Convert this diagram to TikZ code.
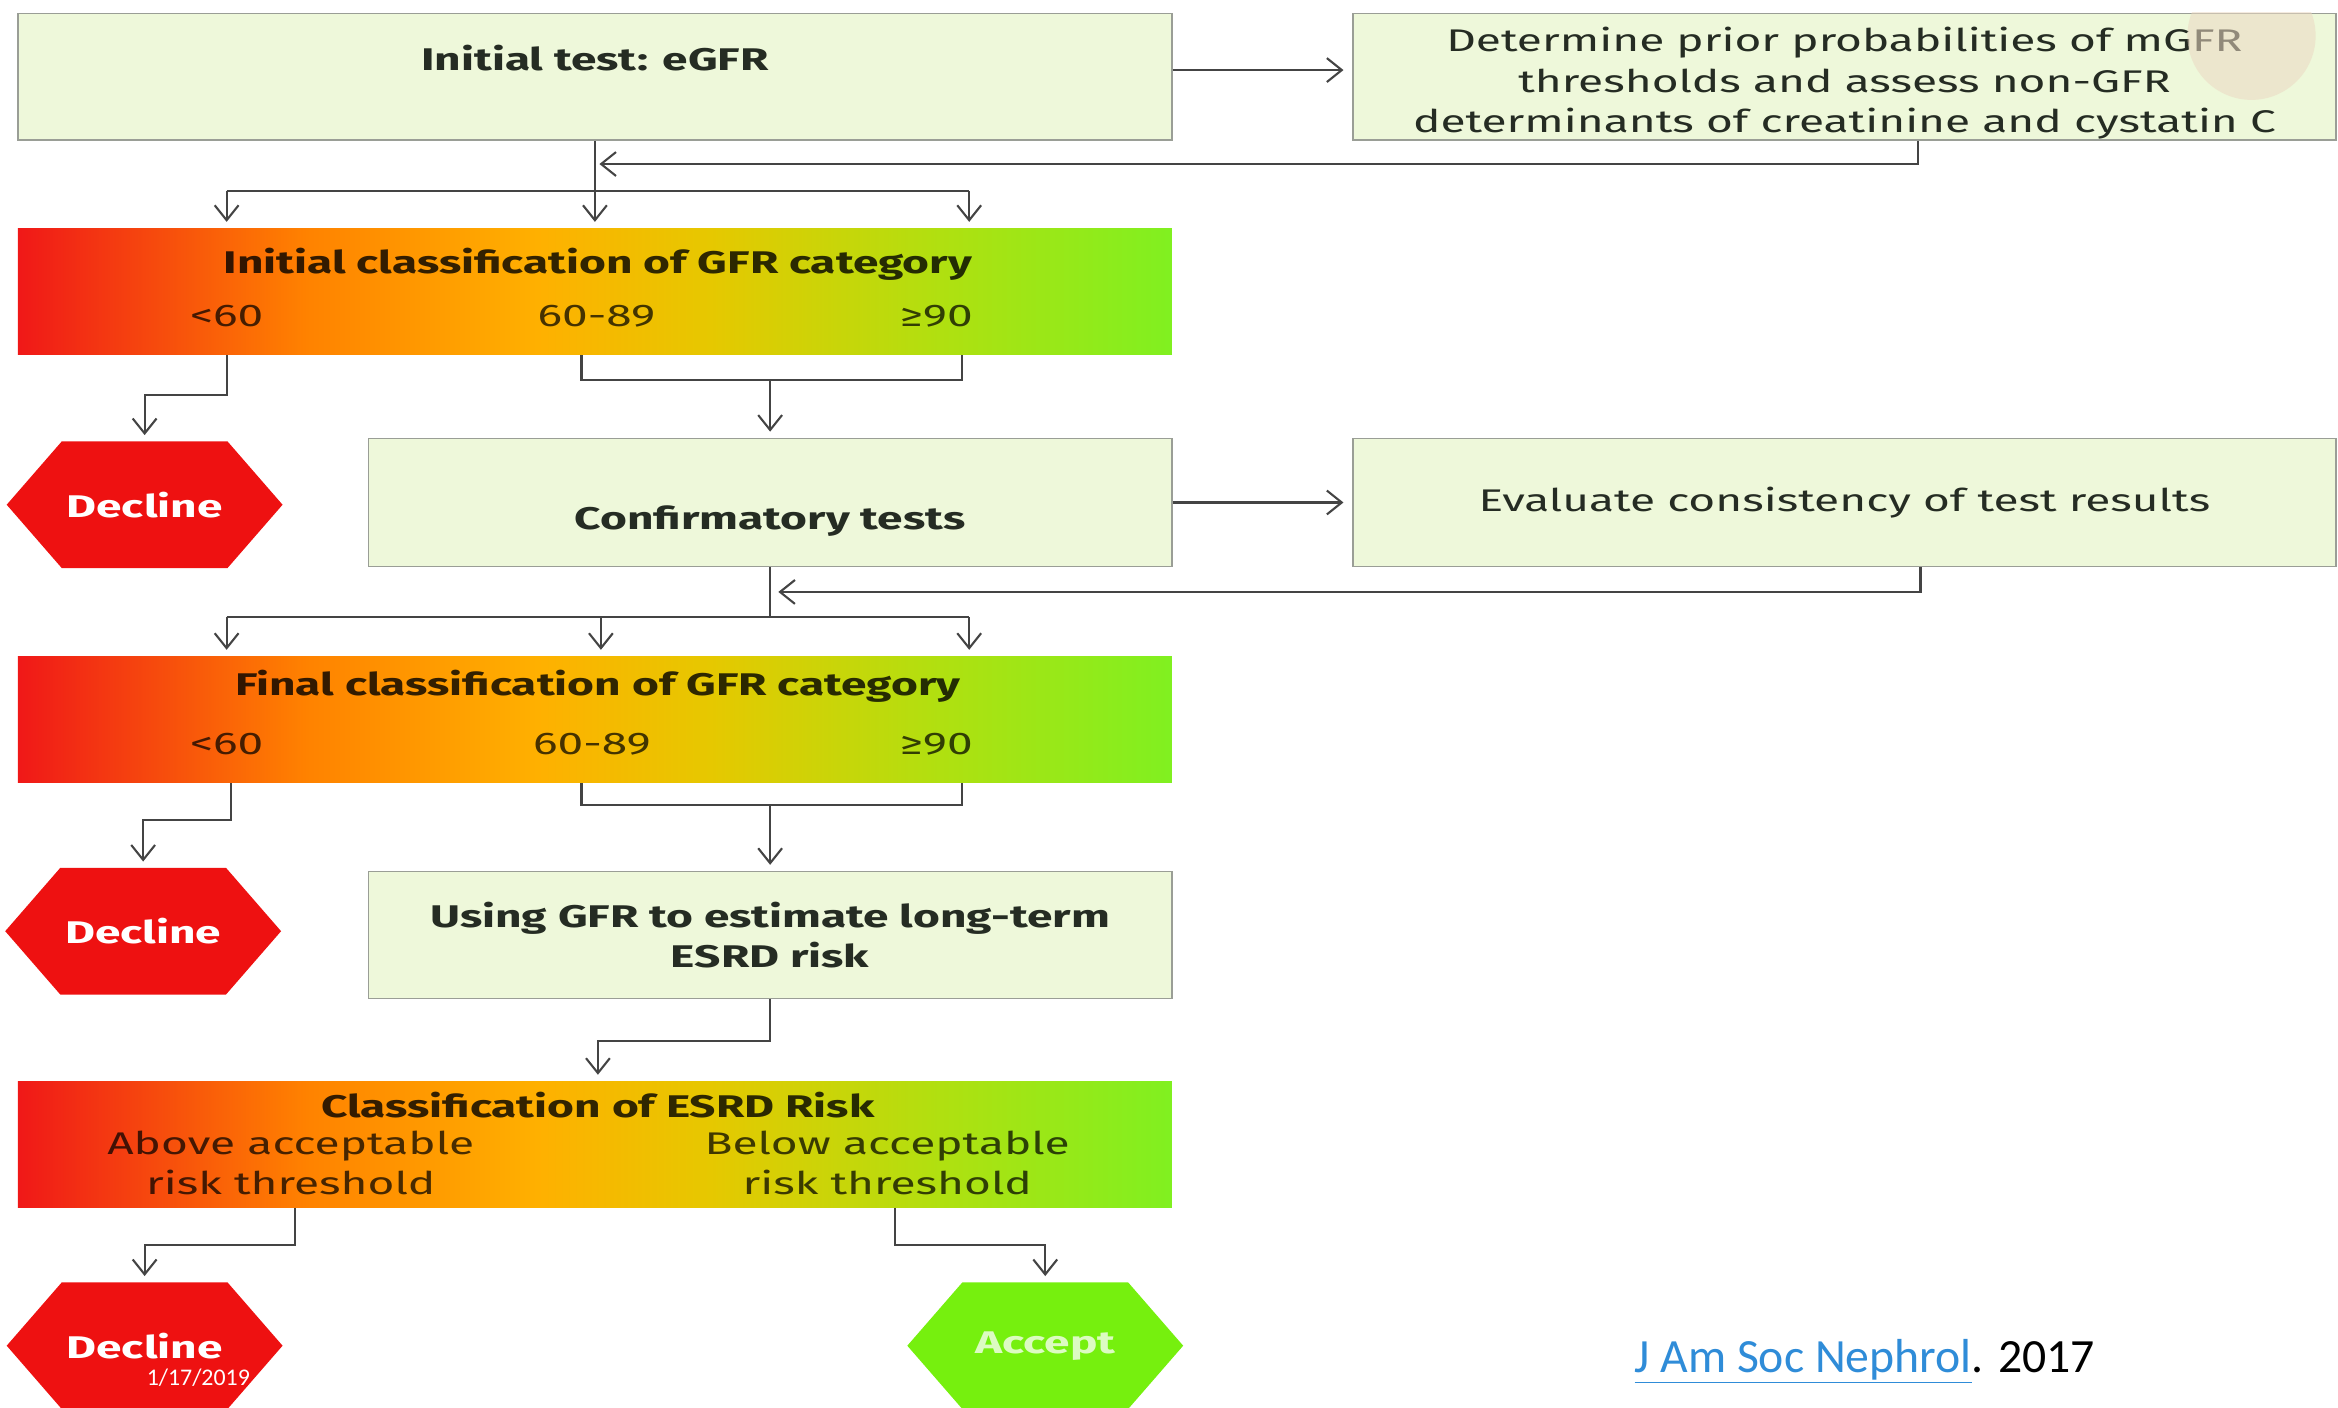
\documentclass[tikz,border=0pt]{standalone}
\usepackage{fontspec}
\setmainfont{Fira Sans}[FakeStretch=1.47]
\newfontfamily\calib{Carlito}
\usetikzlibrary{arrows.meta,shapes.symbols}
\definecolor{boxfill}{HTML}{EEF8DA}
\definecolor{boxline}{HTML}{9A9E96}
\definecolor{txt}{HTML}{252C23}
\definecolor{lin}{HTML}{444444}
\definecolor{decl}{HTML}{EE1111}
\definecolor{accg}{HTML}{76F00E}
\definecolor{linkblue}{HTML}{2F8CD8}
\definecolor{beige}{HTML}{EBD9C3}
\definecolor{g0}{HTML}{F01818}
\definecolor{g1}{HTML}{F5420F}
\definecolor{g2}{HTML}{FF8200}
\definecolor{g3}{HTML}{FFB000}
\definecolor{g4}{HTML}{E6C800}
\definecolor{g5}{HTML}{B0E010}
\definecolor{g6}{HTML}{80F020}
\pgfdeclarehorizontalshading{gfrshade}{100bp}{color(0bp)=(g0); color(25bp)=(g0); color(30bp)=(g1); color(37.5bp)=(g2); color(47.5bp)=(g3); color(55bp)=(g4); color(65bp)=(g5); color(75bp)=(g6); color(100bp)=(g6)}
\begin{document}
\begin{tikzpicture}[x=1pt,y=-1pt,
  box/.style={draw=boxline, line width=1pt, fill=boxfill, text=txt, font=\fontsize{21}{27}\selectfont, align=center, inner sep=0pt},
  bar/.style={shade, shading=gfrshade, draw=none, minimum width=774pt, minimum height=85pt, inner sep=0pt},
  bartitle/.style={text=black, text opacity=0.8, font=\bfseries\fontsize{21}{26}\selectfont, inner sep=0pt},
  barlab/.style={text=black, text opacity=0.72, font=\fontsize{21}{27}\selectfont, align=center, inner sep=0pt},
  hexa/.style={shape=signal, signal to=east and west, signal pointer angle=98, minimum width=185pt, minimum height=85pt, inner sep=0pt, font=\bfseries\fontsize{21}{24}\selectfont, text=white},
  line/.style={draw=lin, line width=1.4pt},
  arr/.style={line, -{Straight Barb[length=10pt,width=16pt,line width=1.4pt]}, shorten >=4pt},
]
\useasboundingbox (0,0) rectangle (1568,944);
\fill[white] (0,0) rectangle (1568,944);

% boxes
\node[box, minimum width=774pt, text height=38pt, text depth=47pt, font=\bfseries\fontsize{21}{27}\selectfont] (A) at (399,51.5) {Initial test: eGFR};
\node[box, minimum width=659pt, minimum height=85pt] (B) at (1237,51.5) {\rule{0pt}{25pt}Determine prior probabilities of mGFR\\thresholds and assess non-GFR\\determinants of creatinine and cystatin C};
\begin{scope}
\clip (B.south west) rectangle (B.north east);
\fill[beige, opacity=0.55] (1510,24) circle (43);
\end{scope}
\node[box, minimum width=539pt, text height=61pt, text depth=25pt, font=\bfseries\fontsize{21}{27}\selectfont] (C) at (516.5,337) {Confirmatory tests};
\node[box, minimum width=659pt, minimum height=86pt] (E) at (1237,337) {Evaluate consistency of test results};
\node[box, minimum width=539pt, minimum height=85pt, font=\bfseries\fontsize{21}{27}\selectfont] (U) at (516.5,627) {Using GFR to estimate long-term\\ESRD risk};

% bars
\node[bar] (b1) at (399,195.5) {};
\node[bar] (b2) at (399,482.5) {};
\node[bar] (b3) at (399,767.5) {};
\node[bartitle] (t1) at (401,177) {Initial classification of GFR category};
\node[barlab] (l1a) at (152,212) {<60};
\node[barlab] (l1b) at (400,212) {60-89};
\node[barlab] (l1c) at (628,212) {≥90};
\node[bartitle] (t2) at (401,460) {Final classification of GFR category};
\node[barlab] (l2a) at (152,499) {<60};
\node[barlab] (l2b) at (397,499) {60-89};
\node[barlab] (l2c) at (628,499) {≥90};
\node[bartitle] (t3) at (401,741) {Classification of ESRD Risk};
\node[barlab] (l3a) at (195,780) {Above acceptable\\risk threshold};
\node[barlab] (l3b) at (595,780) {Below acceptable\\risk threshold};

% hexagons
\node[hexa, fill=decl] (d1) at (97,338.5) {Decline};
\node[hexa, fill=decl] (d2) at (96,624.5) {Decline};
\node[hexa, fill=decl] (d3) at (97,902.5) {Decline};
\node[hexa, fill=accg, text opacity=0.75] (ac) at (701,902.5) {Accept};

% junction coordinates
\coordinate (j1) at (398,110);
\coordinate (h1l) at (152,128);
\coordinate (h1r) at (650,128);
\coordinate (k1l) at (390,255);
\coordinate (k1r) at (645,255);
\coordinate (j2) at (518,397);
\coordinate (h2l) at (152,414);
\coordinate (h2m) at (403,414);
\coordinate (h2r) at (650,414);
\coordinate (k2l) at (390,540);
\coordinate (k2r) at (645,540);

% connectors
\draw[arr, shorten >=6pt] ([yshift=4.5pt]A.east) -- ([yshift=4.5pt]B.west);
\draw[arr] ([xshift=49pt]B.south) |- (j1);
\draw[arr] (A.south) -- (A.south |- b1.north);
\draw[line] (h1l) -- (h1r);
\draw[arr] (h1l) -- (h1l |- b1.north);
\draw[arr] (h1r) -- (h1r |- b1.north);
\draw[arr] (b1.south -| l1a) -- ++(0,27) -| (d1.north);
\draw[line] (b1.south -| k1l) -- (k1l) -- (k1r) -- (b1.south -| k1r);
\draw[arr] (k1l -| C.north) -- (C.north);

\draw[arr, shorten >=6pt] (C.east) -- (E.west);
\draw[arr] ([xshift=51pt]E.south) |- (j2);
\draw[line] (C.south) -- (C.south |- h2l);
\draw[line] (h2l) -- (h2r);
\draw[arr] (h2l) -- (h2l |- b2.north);
\draw[arr] (h2m) -- (h2m |- b2.north);
\draw[arr] (h2r) -- (h2r |- b2.north);
\draw[arr] ([xshift=3pt]b2.south -| l2a) -- ++(0,25) -| (d2.north);
\draw[line] (b2.south -| k2l) -- (k2l) -- (k2r) -- (b2.south -| k2r);
\draw[arr] (k2l -| U.north) -- (U.north);

\draw[arr] (U.south) -- ++(0,28) -| (t3 |- b3.north);
\draw[arr] ([xshift=3pt]b3.south -| l3a) -- ++(0,25) -| (d3.north);
\draw[arr] ([xshift=5pt]b3.south -| l3b) -- ++(0,25) -| (ac.north);

% footer texts
\node[font=\calib\fontsize{16}{18}\selectfont, text=white, inner sep=0pt] (date) at (133,924) {1/17/2019};
\node[font=\calib\fontsize{32}{36}\selectfont, anchor=west, inner sep=0pt] (cite) at (1096,913) {\textcolor{linkblue}{\underline{J Am Soc Nephrol}}. 2017};
\end{tikzpicture}
\end{document}
